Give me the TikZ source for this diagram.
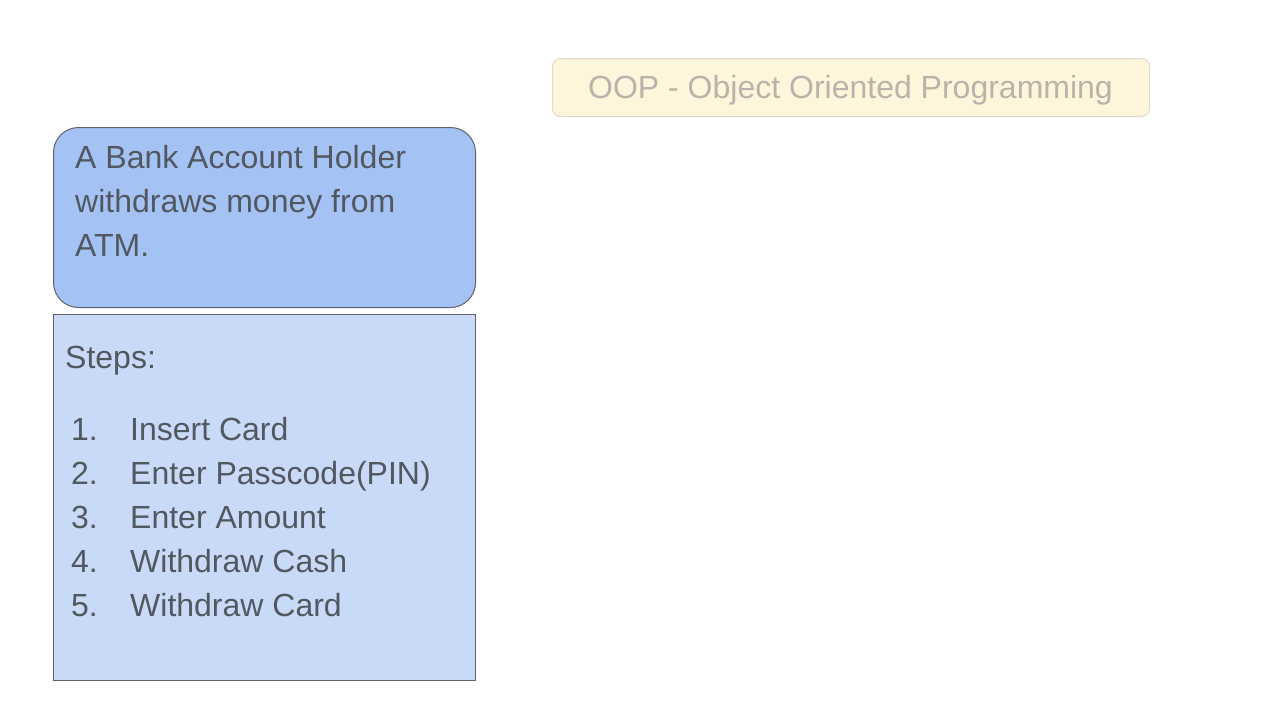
\documentclass[tikz,border=0pt]{standalone}
\usepackage{fontspec}
\setmainfont{Liberation Sans}
\definecolor{txt}{HTML}{515860}
\definecolor{topfill}{HTML}{A4C2F4}
\definecolor{botfill}{HTML}{C9DAF8}
\definecolor{boxline}{HTML}{5F6368}
\definecolor{ttlfill}{HTML}{FFF5DA}
\definecolor{ttlline}{HTML}{E2D8CC}
\definecolor{ttltxt}{HTML}{BDB2AA}
\begin{document}
\begin{tikzpicture}[x=1pt,y=-1pt,
  lbl/.style={anchor=base west,inner sep=0pt,text=txt,font=\fontsize{32}{44}\selectfont},
  panel/.style={draw=boxline,line width=1pt,anchor=north west,inner sep=0pt}]
\useasboundingbox (0,0) rectangle (1280,720);
\fill[white] (0,0) rectangle (1280,720);
% title
\node[anchor=north west,inner sep=0pt,draw=ttlline,fill=ttlfill,rounded corners=8pt,line width=1pt,
  minimum width=597pt,minimum height=58pt] (ttlbox) at (552,58) {};
\node[anchor=base,inner sep=0pt,text=ttltxt,font=\fontsize{32}{44}\selectfont] (ttl) at (850.5,98.5) {OOP - Object Oriented Programming};
% top box
\node[panel,fill=topfill,rounded corners=25pt,minimum width=422pt,minimum height=180pt] (topbox) at (53,127) {};
\node[lbl] (t1) at (75,168) {A Bank Account Holder};
\node[lbl] (t2) at (75,212) {withdraws money from};
\node[lbl] (t3) at (75,256) {ATM.};
% bottom box
\node[panel,fill=botfill,minimum width=422pt,minimum height=366pt] (botbox) at (53,314) {};
\node[lbl] (steps) at (65,368) {Steps:};
\foreach \i/\t [count=\k] in {1/Insert Card,2/Enter Passcode(PIN),3/Enter Amount,4/Withdraw Cash,5/Withdraw Card}{
  \node[lbl] (n\k) at (71,{396+44*\k}) {\i.};
  \node[lbl] (s\k) at (130,{396+44*\k}) {\t};
}
\end{tikzpicture}
\end{document}
